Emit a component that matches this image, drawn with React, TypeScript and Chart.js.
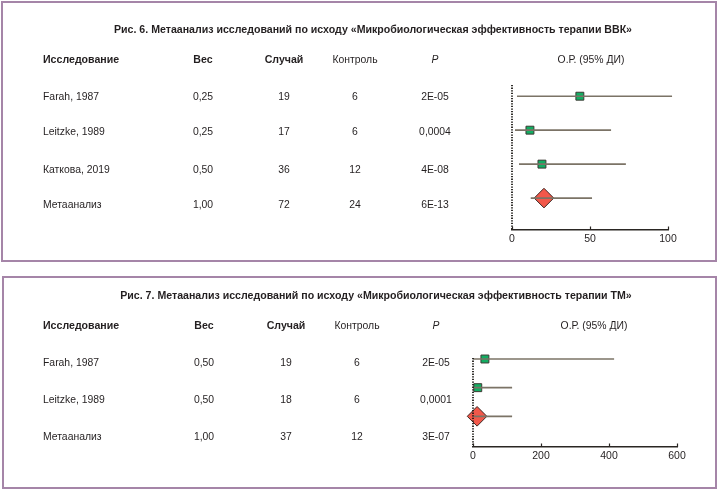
import React, { useEffect, useRef } from 'react';
import { Chart, registerables } from 'chart.js';

Chart.register(...registerables);

// ---------- Data: figure 6 ----------
const title1 = 'Рис. 6. Метаанализ исследований по исходу «Микробиологическая эффективность терапии ВВК»';
const studies1 = ['Farah, 1987', 'Leitzke, 1989', 'Каткова, 2019', 'Метаанализ'];
const weights1 = ['0,25', '0,25', '0,50', '1,00'];
const cases1 = ['19', '17', '36', '72'];
const controls1 = ['6', '6', '12', '24'];
const pValues1 = ['2E-05', '0,0004', '4E-08', '6E-13'];
const or1 = [43.5, 11.5, 19.2, 20.5];
const ciLow1 = [3.2, 1.9, 4.5, 12];
const ciHigh1 = [102.6, 63.5, 73, 51.3];
const xTicks1 = [0, 50, 100];

// ---------- Data: figure 7 ----------
const title2 = 'Рис. 7. Метаанализ исследований по исходу «Микробиологическая эффективность терапии ТМ»';
const studies2 = ['Farah, 1987', 'Leitzke, 1989', 'Метаанализ'];
const weights2 = ['0,50', '0,50', '1,00'];
const cases2 = ['19', '18', '37'];
const controls2 = ['6', '6', '12'];
const pValues2 = ['2E-05', '0,0001', '3E-07'];
const or2 = [35, 14, 12];
const ciLow2 = [0.5, 2, 3];
const ciHigh2 = [415, 115, 115];
const xTicks2 = [0, 200, 400, 600];

const headers = ['Исследование', 'Вес', 'Случай', 'Контроль', 'P', 'О.Р. (95% ДИ)'];

const TEXT = '#231f20';
const CI_COLOR = '#7b7366';
const AXIS = '#2a2623';
const GREEN = '#12ad62';
const RED = '#f2584a';
const FONT = '"Liberation Sans", Arial, sans-serif';

type PanelCfg = {
  title: string;
  studies: string[];
  weights: string[];
  cases: string[];
  controls: string[];
  pValues: string[];
  or: number[];
  lo: number[];
  hi: number[];
  xTicks: number[];
  height: number;
  padding: { left: number; right: number; top: number; bottom: number };
  yMin: number;
  yMax: number;
  titleX: number;
  titleY: number;
  headerY: number;
  rowY: number[];
  colX: number[]; // name(left), weight, cases, controls, p, or-header (centers)
};

function ForestPanel({ cfg, top }: { cfg: PanelCfg; top: number }) {
  const ref = useRef<HTMLCanvasElement | null>(null);
  useEffect(() => {
    if (!ref.current) return;
    const n = cfg.studies.length;
    const datasets: any[] = [];
    // dotted reference line at 0
    datasets.push({
      type: 'scatter',
      showLine: true,
      data: [
        { x: 0, y: cfg.yMin },
        { x: 0, y: cfg.yMax },
      ],
      borderColor: '#1e1b18',
      borderWidth: 1.8,
      borderDash: [1.3, 1.3],
      pointRadius: 0,
      clip: false,
    });
    for (let i = 0; i < n; i++) {
      datasets.push({
        type: 'scatter',
        showLine: true,
        data: [
          { x: cfg.lo[i], y: i },
          { x: cfg.hi[i], y: i },
        ],
        borderColor: CI_COLOR,
        borderWidth: 1.6,
        pointRadius: 0,
        clip: false,
      });
    }
    datasets.push({
      type: 'scatter',
      data: cfg.or.slice(0, n - 1).map((v, i) => ({ x: v, y: i })),
      pointStyle: 'rect',
      pointRadius: 5.6,
      backgroundColor: GREEN,
      borderColor: '#3b3a33',
      borderWidth: 1,
      clip: false,
    });
    datasets.push({
      type: 'scatter',
      data: [{ x: cfg.or[n - 1], y: n - 1 }],
      pointStyle: 'rectRot',
      pointRadius: 9.8,
      backgroundColor: RED,
      borderColor: '#3b2a26',
      borderWidth: 1,
      clip: false,
    });

    const textPlugin = {
      id: 'tableText',
      afterDraw(chart: any) {
        const ctx = chart.ctx as CanvasRenderingContext2D;
        ctx.save();
        ctx.fillStyle = TEXT;
        ctx.textBaseline = 'middle';
        // title
        ctx.font = `bold 10.6px ${FONT}`;
        ctx.textAlign = 'center';
        ctx.fillText(cfg.title, cfg.titleX, cfg.titleY);
        // headers
        const c = cfg.colX;
        ctx.font = `bold 10.6px ${FONT}`;
        ctx.textAlign = 'left';
        ctx.fillText(headers[0], c[0], cfg.headerY);
        ctx.textAlign = 'center';
        ctx.fillText(headers[1], c[1], cfg.headerY);
        ctx.fillText(headers[2], c[2], cfg.headerY);
        ctx.font = `10.4px ${FONT}`;
        ctx.fillText(headers[3], c[3], cfg.headerY);
        ctx.font = `italic 10.4px ${FONT}`;
        ctx.fillText(headers[4], c[4], cfg.headerY);
        ctx.font = `10.4px ${FONT}`;
        ctx.fillText(headers[5], c[5], cfg.headerY);
        // rows
        for (let i = 0; i < n; i++) {
          const y = cfg.rowY[i];
          ctx.textAlign = 'left';
          ctx.fillText(cfg.studies[i], c[0], y);
          ctx.textAlign = 'center';
          ctx.fillText(cfg.weights[i], c[1], y);
          ctx.fillText(cfg.cases[i], c[2], y);
          ctx.fillText(cfg.controls[i], c[3], y);
          ctx.fillText(cfg.pValues[i], c[4], y);
        }
        // upward tick marks on the x axis
        const xs = chart.scales.x;
        const yb = chart.chartArea.bottom;
        ctx.strokeStyle = AXIS;
        ctx.lineWidth = 1.2;
        xs.ticks.forEach((t: any) => {
          const px = Math.round(xs.getPixelForValue(t.value)) + 0.5;
          ctx.beginPath();
          ctx.moveTo(px, yb);
          ctx.lineTo(px, yb - 3.5);
          ctx.stroke();
        });
        ctx.restore();
      },
    };

    const chart = new Chart(ref.current, {
      type: 'scatter',
      data: { datasets },
      options: {
        animation: false,
        responsive: false,
        maintainAspectRatio: false,
        devicePixelRatio: 1,
        layout: { padding: cfg.padding },
        plugins: { legend: { display: false }, tooltip: { enabled: false }, title: { display: false } },
        scales: {
          x: {
            type: 'linear',
            min: cfg.xTicks[0],
            max: cfg.xTicks[cfg.xTicks.length - 1],
            afterBuildTicks: (s: any) => {
              s.ticks = cfg.xTicks.map((v) => ({ value: v }));
            },
            afterFit: (s: any) => {
              s.height = 16;
            },
            grid: { display: false, drawTicks: false },
            border: { display: true, color: AXIS, width: 1.4 },
            ticks: {
              color: TEXT,
              font: { family: FONT, size: 10.5 },
              padding: 3,
              maxRotation: 0,
              callback: (v: any) => String(v),
            },
          },
          y: {
            type: 'linear',
            display: false,
            reverse: true,
            min: cfg.yMin,
            max: cfg.yMax,
          },
        },
      } as any,
      plugins: [textPlugin],
    });
    return () => chart.destroy();
  }, [cfg]);

  return (
    <canvas
      ref={ref}
      width={720}
      height={cfg.height}
      style={{ position: 'absolute', left: 0, top, width: 720, height: cfg.height }}
    />
  );
}

const panel1: PanelCfg = {
  title: title1,
  studies: studies1,
  weights: weights1,
  cases: cases1,
  controls: controls1,
  pValues: pValues1,
  or: or1,
  lo: ciLow1,
  hi: ciHigh1,
  xTicks: xTicks1,
  height: 263,
  padding: { left: 512, right: 52, top: 85, bottom: 17 },
  yMin: -0.33,
  yMax: 3.94,
  titleX: 373,
  titleY: 30,
  headerY: 60,
  rowY: [97, 132, 170, 205],
  colX: [43, 203, 284, 355, 435, 591],
};

const panel2: PanelCfg = {
  title: title2,
  studies: studies2,
  weights: weights2,
  cases: cases2,
  controls: controls2,
  pValues: pValues2,
  or: or2,
  lo: ciLow2,
  hi: ciHigh2,
  xTicks: xTicks2,
  height: 220,
  padding: { left: 473, right: 43, top: 88, bottom: 27 },
  yMin: -0.035,
  yMax: 3.07,
  titleX: 376,
  titleY: 26,
  headerY: 56,
  rowY: [93, 130, 167],
  colX: [43, 204, 286, 357, 436, 594],
};

export default function App() {
  const border = '2px solid #a585a8';
  return (
    <div style={{ position: 'absolute', left: 0, top: 0, width: 720, height: 490, background: '#fff', overflow: 'hidden' }}>
      <ForestPanel cfg={panel1} top={0} />
      <ForestPanel cfg={panel2} top={270} />
      <div style={{ position: 'absolute', left: 1, top: 1, width: 716, height: 261, border, boxSizing: 'border-box' }} />
      <div style={{ position: 'absolute', left: 2, top: 276, width: 715, height: 213, border, boxSizing: 'border-box' }} />
    </div>
  );
}
